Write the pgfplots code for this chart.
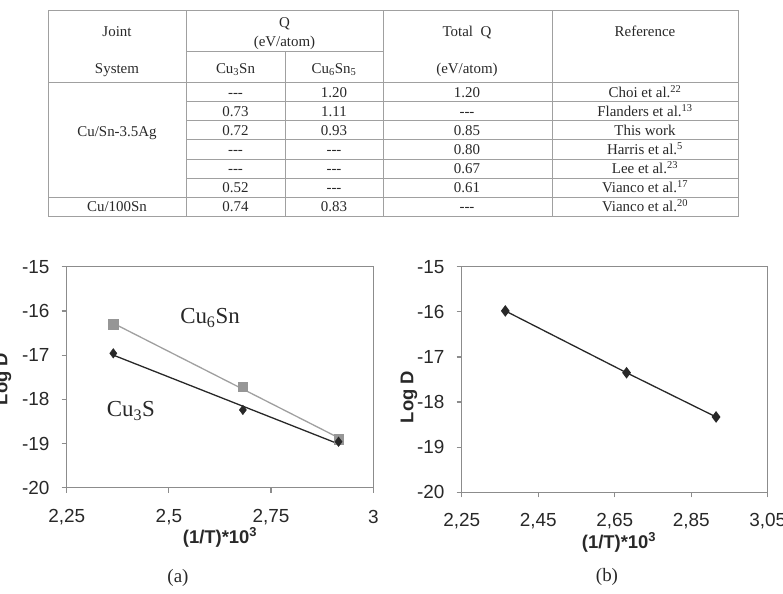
\documentclass[border=0pt]{standalone}
\usepackage{fontspec}
\setmainfont{Liberation Serif}
\newfontfamily\arial{Liberation Sans}
\usepackage{pgfplots}
\pgfplotsset{compat=1.18}

\definecolor{framegray}{RGB}{140,140,140}
\definecolor{rulegray}{RGB}{160,160,160}
\definecolor{txt}{RGB}{40,40,40}
\definecolor{sqgray}{RGB}{150,150,150}
\definecolor{sqline}{RGB}{160,160,160}
\definecolor{dkline}{RGB}{40,40,40}

% Arrhenius data: x = 1000/T, y = log D
\pgfplotstableread{
x      y
2.364  -16.30
2.681  -17.72
2.915  -18.90
}\cusixsn
\pgfplotstableread{
x      y
2.364  -16.28
2.915  -18.87
}\cusixsnfit
\pgfplotstableread{
x      y
2.364  -16.96
2.681  -18.24
2.915  -18.96
}\cuthrees
\pgfplotstableread{
x      y
2.364  -17.00
2.915  -19.01
}\cuthreesfit
\pgfplotstableread{
x      y
2.364  -15.98
2.681  -17.35
2.915  -18.33
}\totalq

\pgfplotsset{
  arrh/.style={
    scale only axis,
    anchor=south west,
    ymin=-20, ymax=-15,
    ytick={-20,-19,-18,-17,-16,-15},
    yticklabels={-20,-19,-18,-17,-16,-15},
    axis line style={framegray, line width=1.2bp},
    tick style={framegray, line width=1.2bp},
    major tick length=5bp,
    tick align=outside,
    xtick pos=left, ytick pos=left,
    tick label style={font=\arial\fontsize{19}{19}\selectfont, text=txt, inner sep=0pt},
    yticklabel style={anchor=east, xshift=-12bp},
    label style={font=\arial\bfseries\fontsize{18.5}{19}\selectfont, text=txt},
  },
}

\begin{document}
\begin{tikzpicture}
\useasboundingbox (0,0) rectangle (783bp,594bp);

% ---------- table of activation energies ----------
\begin{scope}[x=1bp, y=-1bp, yshift=594bp,
  every node/.style={font=\fontsize{15}{16}\selectfont, text=txt, inner sep=0pt,
                     text height=10.2bp, text depth=0bp}]
  \draw[rulegray, line width=1bp] (48,11) rectangle (738,216.3);
  \draw[rulegray, line width=1bp] (186,11) -- (186,216.3);
  \draw[rulegray, line width=1bp] (285,52) -- (285,216.3);
  \draw[rulegray, line width=1bp] (383,11) -- (383,216.3);
  \draw[rulegray, line width=1bp] (552,11) -- (552,216.3);
  \draw[rulegray, line width=1bp] (186,52) -- (383,52);
  \draw[rulegray, line width=1bp] (48,82.7) -- (738,82.7);
  \foreach \yy in {101.7,121,140,159.3,178.3}
    \draw[rulegray, line width=1bp] (186,\yy) -- (738,\yy);
  \draw[rulegray, line width=1bp] (48,197.3) -- (738,197.3);

  \node at (117,31) {Joint};
  \node at (117,68) {System};
  \node at (284.5,22) {Q};
  \node at (284.5,41.5) {(eV/atom)};
  \node at (235.5,68) {Cu\textsubscript{3}Sn};
  \node at (334,68) {Cu\textsubscript{6}Sn\textsubscript{5}};
  \node at (467,31.5) {Total\ \ Q};
  \node at (467,68) {(eV/atom)};
  \node at (645,31.5) {Reference};

  \node at (117,131) {Cu/Sn-3.5Ag};
  \node at (117,206.5) {Cu/100Sn};

  \foreach \yy/\a/\b/\c/\r in {
    92.2/{-}{-}{-}/1.20/1.20/{Choi et al.\textsuperscript{22}},
    111.3/0.73/1.11/{-}{-}{-}/{Flanders et al.\textsuperscript{13}},
    130.5/0.72/0.93/0.85/{This work},
    149.6/{-}{-}{-}/{-}{-}{-}/0.80/{Harris et al.\textsuperscript{5}},
    168.8/{-}{-}{-}/{-}{-}{-}/0.67/{Lee et al.\textsuperscript{23}},
    187.8/0.52/{-}{-}{-}/0.61/{Vianco et al.\textsuperscript{17}},
    206.8/0.74/0.83/{-}{-}{-}/{Vianco et al.\textsuperscript{20}}}
  {
    \node at (235.5,\yy) {\a};
    \node at (334,\yy) {\b};
    \node at (467,\yy) {\c};
    \node at (645,\yy) {\r};
  }

  \node[font=\fontsize{19}{20}\selectfont, text height=13bp, text depth=4bp] at (178,578) {(a)};
  \node[font=\fontsize{19}{20}\selectfont, text height=13bp, text depth=4bp] at (607,577) {(b)};
\end{scope}

% ---------- (a) Cu3Sn and Cu6Sn5 layers ----------
\begin{axis}[arrh,
  at={(66.7bp,106.3bp)},
  width=306.6bp, height=221bp,
  xmin=2.25, xmax=3,
  xtick={2.25,2.5,2.75,3},
  xticklabels={{2,25},{2,5},{2,75},3},
  xticklabel style={anchor=center, yshift=-24.3bp},
  xlabel={(1/T)*10\textsuperscript{3}},
  ylabel={Log D},
  xlabel style={at={(axis description cs:0.5,-0.225)}, anchor=center},
  ylabel style={at={(axis description cs:-0.208,0.492)}, anchor=center},
]
  \addplot[sqline, line width=1.3bp, no markers] table[x=x,y=y] {\cusixsnfit};
  \addplot[dkline, line width=1.3bp, no markers] table[x=x,y=y] {\cuthreesfit};
  \addplot[only marks, mark=square*, mark size=4.7bp, sqgray, mark options={fill=sqgray, draw=sqgray}] table[x=x,y=y] {\cusixsn};
  \addplot[only marks, mark=diamond*, mark size=4.8bp, dkline, mark options={fill=dkline, draw=dkline}] table[x=x,y=y] {\cuthrees};
  \node[font=\fontsize{23}{23}\selectfont, text=txt] at (axis cs:2.6005,-16.154) {Cu\textsubscript{6}Sn};
  \node[font=\fontsize{23}{23}\selectfont, text=txt] at (axis cs:2.407,-18.265) {Cu\textsubscript{3}S};
\end{axis}

% ---------- (b) total layer ----------
\begin{axis}[arrh,
  at={(461.7bp,101.7bp)},
  width=306bp, height=225.6bp,
  xmin=2.25, xmax=3.05,
  xtick={2.25,2.45,2.65,2.85,3.05},
  xticklabels={{2,25},{2,45},{2,65},{2,85},{3,05}},
  xticklabel style={anchor=center, yshift=-23.7bp},
  xlabel={(1/T)*10\textsuperscript{3}},
  ylabel={Log D},
  xlabel style={at={(axis description cs:0.514,-0.2225)}, anchor=center},
  ylabel style={at={(axis description cs:-0.172,0.422)}, anchor=center},
]
  \addplot[dkline, line width=1.3bp, mark=diamond*, mark size=4.8bp, mark options={fill=dkline, draw=dkline}] table[x=x,y=y] {\totalq};
\end{axis}
\end{tikzpicture}
\end{document}
